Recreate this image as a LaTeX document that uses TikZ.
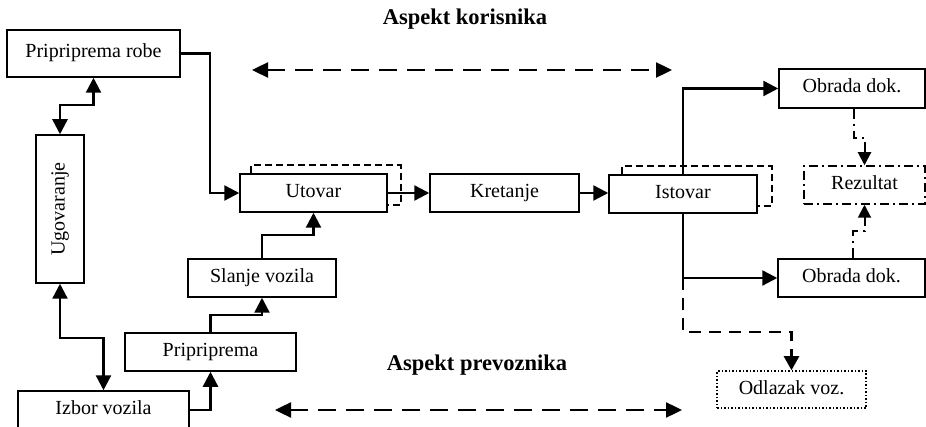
\documentclass[tikz,border=0pt]{standalone}
\usepackage{fontspec}
\setmainfont{Liberation Serif}
\usetikzlibrary{arrows.meta,calc}
\begin{document}
\begin{tikzpicture}[x=1pt,y=-1pt,
  font=\fontsize{20}{24}\selectfont,
  every node/.style={text height=13.5pt, text depth=4.5pt},
  box/.style={draw, line width=1.5pt, inner sep=0pt, fill=white},
  conn/.style={line width=2.4pt, -{Triangle[length=15pt,width=15pt]}},
  dbl/.style={line width=2.4pt, {Triangle[length=15pt,width=15pt]}-{Triangle[length=15pt,width=15pt]}},
  aspekt/.style={line width=2.4pt, dash pattern=on 18pt off 10pt, {Triangle[length=16pt,width=15pt]}-{Triangle[length=16pt,width=15pt]}},
  shadowdash/.style={line width=1.6pt, dash pattern=on 7pt off 4pt},
  dashdot/.style={line width=2pt, dash pattern=on 10pt off 5pt on 2pt off 5pt, -{Triangle[length=13pt,width=13pt]}},
  heading/.style={font=\fontsize{22.5}{26}\selectfont\bfseries}
]
\useasboundingbox (0,0) rectangle (926,427);
% boxes
\node[box, minimum width=173pt, minimum height=47pt] (robe) at (93.5,53.5) {Pripriprema robe};
\node[box, minimum width=48pt, minimum height=148pt] (ugov) at (60,209) {};
\node[rotate=90] (ugovtxt) at (ugov.center) {Ugovaranje};
\node[box, minimum width=147pt, minimum height=38pt] (utovar) at (313.5,193) {Utovar};
\node[box, minimum width=149pt, minimum height=38pt] (kretanje) at (504.5,193) {Kretanje};
\node[box, minimum width=148pt, minimum height=38pt] (istovar) at (683,194) {Istovar};
\node[box, minimum width=146pt, minimum height=39pt] (obrada1) at (852,88.5) {Obrada dok.};
\node[draw, line width=1.5pt, dash pattern=on 9pt off 4pt on 2pt off 4pt, inner sep=0pt, minimum width=121pt, minimum height=38pt] (rezultat) at (864.5,185) {Rezultat};
\node[box, minimum width=147pt, minimum height=38pt] (obrada2) at (851.5,278) {Obrada dok.};
\node[draw, line width=1.5pt, dotted, inner sep=0pt, minimum width=149pt, minimum height=37pt] (odlazak) at (791.5,389.5) {Odlazak voz.};
\node[box, minimum width=148pt, minimum height=38pt] (slanje) at (262,278) {Slanje vozila};
\node[box, minimum width=171pt, minimum height=38pt] (pripr) at (210.5,352) {Pripriprema};
\node[box, minimum width=171pt, minimum height=38pt] (izbor) at (103.5,410) {Izbor vozila};
% dashed shadows of Utovar and Istovar
\draw[shadowdash] ([xshift=12pt]utovar.north west) -- ++(0,-8) -| ([xshift=13pt,yshift=8pt]utovar.south east) -- ([yshift=8pt]utovar.south east);
\draw[shadowdash] ([xshift=14pt]istovar.north west) -- ++(0,-8) -| ([xshift=14pt,yshift=8pt]istovar.south east) -- ([yshift=8pt]istovar.south east);
% headings
\node[heading] (hk) at (465,20) {Aspekt korisnika};
\node[heading] (hp) at (477,366) {Aspekt prevoznika};
\coordinate (k1) at (252,70);
\coordinate (k2) at (672,70);
\coordinate (p1) at (275,410);
\coordinate (p2) at (682,410);
\draw[aspekt] (k1) -- (k2);
\draw[aspekt] (p1) -- (p2);
% connectors
\draw[conn] (robe.east) -- ++(29,0) |- (utovar.west);
\draw[dbl] (ugov.north) -- ++(0,-29) -| (robe.south);
\draw[dbl] (ugov.south) -- ++(0,54) -| (izbor.north);
\draw[conn] (izbor.east) -| (pripr.south);
\draw[conn] (pripr.north) -- ++(0,-17) -| (slanje.south);
\draw[conn] (slanje.north) -- ++(0,-23) -| (utovar.south);
\draw[conn] (utovar.east) -- (kretanje.west);
\draw[conn] (kretanje.east) -- (kretanje.east -| istovar.west);
\draw[conn] (istovar.north) |- (obrada1.west);
\draw[conn] (istovar.south) |- (obrada2.west);
\draw[line width=2.4pt, dash pattern=on 12pt off 8pt, -{Triangle[length=14pt,width=15pt]}] (istovar.south |- obrada2.west) -- ++(0,54) -| (odlazak.north);
\draw[dashdot] ([xshift=2pt]obrada1.south) -- ++(0,29) -| (rezultat.north);
\draw[dashdot] ([xshift=1.5pt]obrada2.north) -- ++(0,-27) -| (rezultat.south);
\end{tikzpicture}
\end{document}
